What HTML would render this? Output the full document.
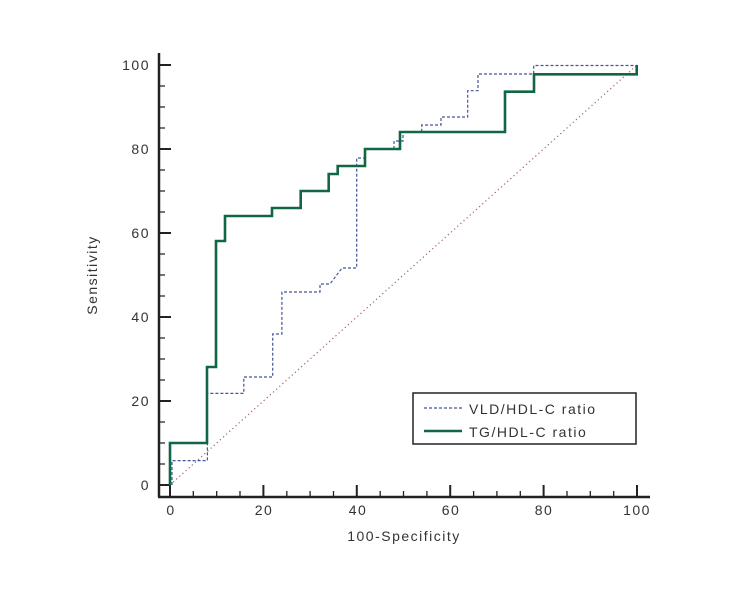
<!DOCTYPE html>
<html><head><meta charset="utf-8"><style>body{margin:0;background:#fff}svg{display:block}text{font-family:"Liberation Sans",sans-serif;fill:#333;font-size:14px;letter-spacing:1.5px}</style></head><body>
<svg width="750" height="600" viewBox="0 0 750 600">
<g stroke="#222" stroke-width="2.5" fill="none">
<line x1="159" y1="53" x2="159" y2="497"/>
<line x1="158" y1="497" x2="650" y2="497"/>
</g>
<g stroke="#222" stroke-width="2">
<path d="M159 65h12M159 149h12M159 233h12M159 317h12M159 401h12M159 485h12"/>
<path d="M170 497v-12M263.4 497v-12M356.8 497v-12M450.2 497v-12M543.6 497v-12M637 497v-12"/>
</g>
<g stroke="#222" stroke-width="1.3">
<path d="M159 86h6M159 107h6M159 128h6M159 170h6M159 191h6M159 212h6M159 254h6M159 275h6M159 296h6M159 338h6M159 359h6M159 380h6M159 422h6M159 443h6M159 464h6"/>
<path d="M193.3 497v-6M216.7 497v-6M240 497v-6M286.8 497v-6M310.1 497v-6M333.5 497v-6M380.2 497v-6M403.5 497v-6M426.9 497v-6M473.6 497v-6M496.9 497v-6M520.3 497v-6M567 497v-6M590.3 497v-6M613.7 497v-6"/>
</g>
<g text-anchor="end">
<text x="150" y="70">100</text><text x="150" y="154">80</text><text x="150" y="238">60</text><text x="150" y="322">40</text><text x="150" y="406">20</text><text x="150" y="490">0</text>
</g>
<g text-anchor="middle">
<text x="171" y="515">0</text><text x="264" y="515">20</text><text x="358" y="515">40</text><text x="451" y="515">60</text><text x="544" y="515">80</text><text x="637" y="515">100</text>
<text x="404" y="541">100-Specificity</text>
<text transform="translate(97,275) rotate(-90)">Sensitivity</text>
</g>
<line x1="170" y1="485" x2="637" y2="65" stroke="#a06070" stroke-width="1.2" stroke-dasharray="1.2,3"/>
<path d="M172 485V460.6H207.4V393.4H243.8V377H272.7V334H281.9V292H320V284H330L342 268H356.7V158H365V149H394V141H403V132H421.7V125H441V117H467.7V90.7H478V74H533.7V65.5H637V74" fill="none" stroke="#445599" stroke-width="1.2" stroke-dasharray="3,2"/>
<path d="M170 485V443H207V367H216V241H225V216H272V208H300.7V191H328.7V174H337.7V166H365V149H400V132H505V91.7H534V74.3H636.7V65" fill="none" stroke="#116644" stroke-width="2.6"/>
<rect x="413" y="393" width="223" height="51" fill="#fff" stroke="#222" stroke-width="1.5"/>
<line x1="424" y1="408" x2="462" y2="408" stroke="#445599" stroke-width="1.2" stroke-dasharray="3,2"/>
<line x1="424" y1="431" x2="462" y2="431" stroke="#116644" stroke-width="2.6"/>
<text x="469" y="414">VLD/HDL-C ratio</text>
<text x="469" y="437">TG/HDL-C ratio</text>
</svg>
</body></html>
